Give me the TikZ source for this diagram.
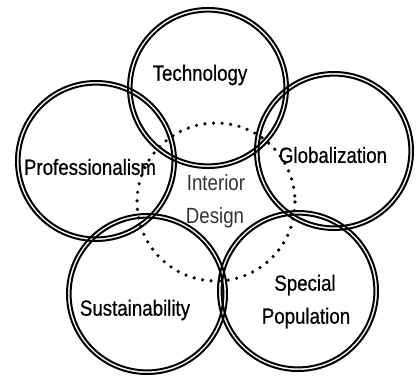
\documentclass[tikz,border=0pt]{standalone}
\usepackage{fontspec}
\setmainfont{Liberation Sans}[FakeStretch=0.85]
\newfontfamily\heavyfont{Liberation Sans}[FakeStretch=0.85,FakeBold=0.6]
\begin{document}
\begin{tikzpicture}[x=1pt,y=-1pt,
  ring/.style={line width=2pt, draw=black},
  dotring/.style={line width=3.6pt, line cap=round, dash pattern=on 0pt off 8.6pt},
  lbl/.style={font=\heavyfont\fontsize{22}{24}\selectfont, inner sep=0pt},
  ilbl/.style={font=\fontsize{22}{24}\selectfont, inner sep=0pt, text=black!80}]
\useasboundingbox (0,0) rectangle (416,378);
\fill[white] (0,0) rectangle (416,378);
% dotted interior circle
\draw[dotring] (216,202) circle[radius=79];
% double rings
\foreach \cx/\cy/\r in {208/88/81, 96/161/81, 334/151/80, 147/294/81, 298/291/81}{
  \draw[ring] (\cx,\cy) circle[radius=\r-1];
  \draw[ring] (\cx,\cy) circle[radius=\r-4.6];
}
\node[lbl] (tech) at (200,75) {Technology};
\node[lbl] (prof) at (90,167) {Professionalism};
\node[lbl] (glob) at (333,155) {Globalization};
\node[lbl] (sust) at (135,310) {Sustainability};
\node[lbl] (spec) at (305,285) {Special};
\node[lbl] (pop) at (306,318) {Population};
\node[ilbl] (int) at (216,183) {Interior};
\node[ilbl] (des) at (215,218) {Design};
\end{tikzpicture}
\end{document}
